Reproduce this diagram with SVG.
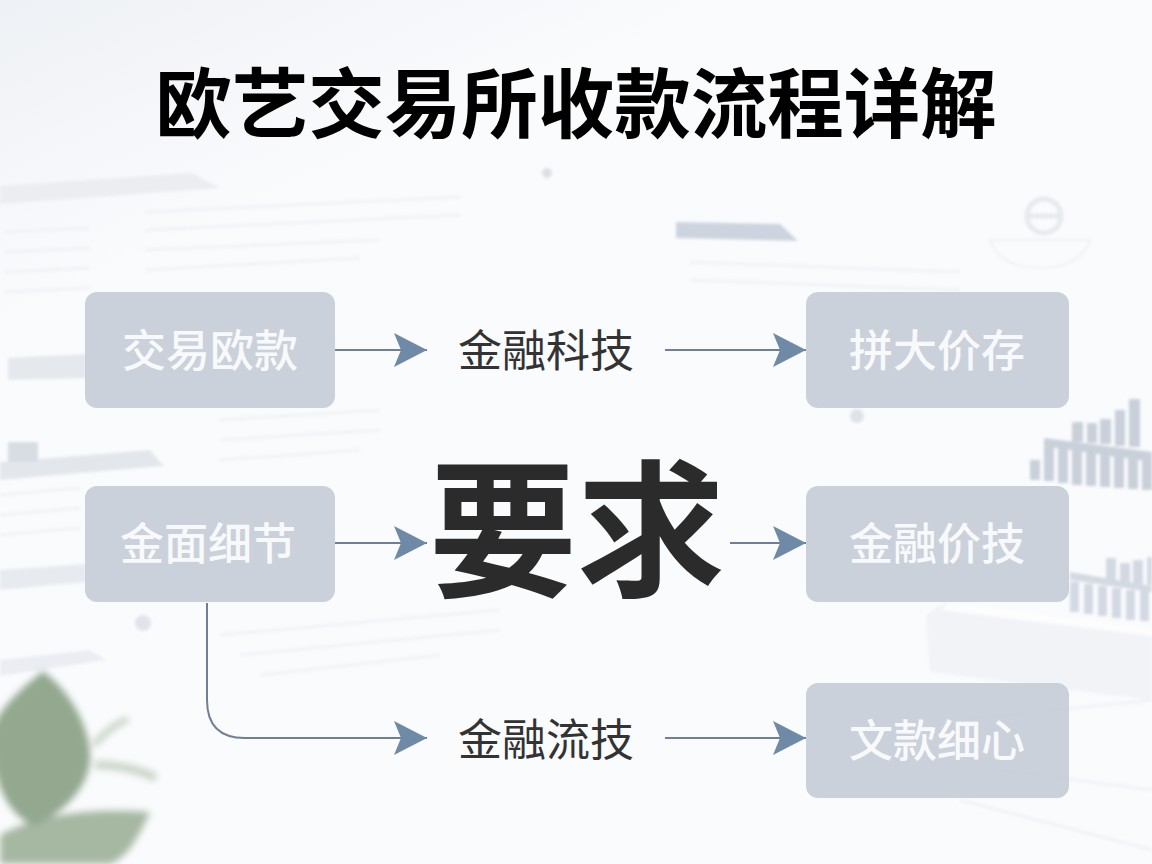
<svg xmlns="http://www.w3.org/2000/svg" width="1152" height="864" viewBox="0 0 1152 864">
<defs>
<linearGradient id="bg" x1="0" y1="0" x2="0.6" y2="1"><stop offset="0" stop-color="#eef1f5"/><stop offset="0.28" stop-color="#fafbfd"/><stop offset="1" stop-color="#fafbfd"/></linearGradient>
<filter id="b1" x="-20%" y="-20%" width="140%" height="140%"><feGaussianBlur stdDeviation="1.5"/></filter>
<filter id="b2" x="-30%" y="-30%" width="160%" height="160%"><feGaussianBlur stdDeviation="3.5"/></filter>
<marker id="ah" markerUnits="userSpaceOnUse" markerWidth="34" markerHeight="36" refX="33" refY="18" orient="auto"><path d="M0 1L33 18L0 35L7 18Z" fill="#6f8aa6"/></marker>
</defs>
<style>
.n{fill:#c5ccd7;fill-opacity:.9}
.nt{font-family:"Noto Sans CJK SC","Noto Sans",sans-serif;font-size:44px;fill:#fff;text-anchor:middle;font-weight:500;fill-opacity:.9}
.lb{font-family:"Noto Sans CJK SC","Noto Sans",sans-serif;font-size:44px;fill:#333;text-anchor:middle}
.c{fill:none;stroke:#6f7f95;stroke-width:2;marker-end:url(#ah)}
.l{stroke:#f0f2f5;stroke-width:3}
</style>
<rect width="1152" height="864" fill="url(#bg)"/>
<g id="background" filter="url(#b1)">
<path d="M0 186L192 173L220 188L0 204Z" fill="#ebedf1"/>
<path d="M676 222L780 224L798 241L676 238Z" fill="#cdd4df"/>
<path d="M8 358L86 354V378L8 380Z" fill="#e5e8ec"/>
<path d="M0 462L150 450L164 466L0 480Z" fill="#e3e7ec"/>
<rect x="8" y="442" width="30" height="20" fill="#d8dde4"/>
<path d="M0 570L86 564V582L0 590Z" fill="#e7eaef"/>
<path d="M0 660L90 650L106 660L0 676Z" fill="#ebedf3"/>
<circle cx="1044" cy="216" r="17" fill="none" stroke="#e6e9ed" stroke-width="5"/>
<line x1="1028" y1="216" x2="1060" y2="216" stroke="#e6e9ed" stroke-width="5"/>
<path d="M990 240H1090Q1080 268 1040 268Q1000 268 990 240Z" fill="none" stroke="#eef0f3" stroke-width="2"/>
<circle cx="547" cy="173" r="5" fill="#dcdfe5"/>
<circle cx="857" cy="416" r="7" fill="#dfe3e9"/>
<circle cx="143" cy="623" r="8" fill="#e0e4ea"/>
<g fill="#c9d0da">
<rect x="1030" y="460" width="10" height="20"/>
<path d="M1044 438L1152 452V462L1044 446Z"/>
<rect x="1044" y="445" width="10" height="36"/><rect x="1058" y="447" width="10" height="36"/><rect x="1072" y="449" width="10" height="36"/><rect x="1086" y="451" width="10" height="35"/><rect x="1100" y="453" width="10" height="34"/><rect x="1114" y="454" width="10" height="34"/><rect x="1128" y="455" width="10" height="34"/><rect x="1142" y="456" width="10" height="34"/>
<rect x="1072" y="422" width="11" height="20"/><rect x="1087" y="423" width="10" height="20"/><rect x="1100" y="419" width="11" height="25"/><rect x="1115" y="410" width="10" height="36"/><rect x="1129" y="399" width="11" height="48"/>
</g>
<g fill="#d3d9e2">
<path d="M1070 572L1152 586V592L1070 580Z"/>
<rect x="1070" y="582" width="9" height="30"/><rect x="1084" y="584" width="9" height="30"/><rect x="1098" y="586" width="9" height="30"/><rect x="1112" y="588" width="9" height="30"/><rect x="1126" y="590" width="9" height="30"/><rect x="1140" y="590" width="9" height="31"/>
<rect x="1106" y="558" width="10" height="22"/><rect x="1120" y="563" width="10" height="20"/><rect x="1133" y="560" width="10" height="24"/><rect x="1147" y="557" width="5" height="28"/>
</g>
<path d="M926 618Q928 610 950 602L1152 628V700L930 672Z" fill="#f1f3f6"/>
<path d="M950 602L1152 628V636L940 610Z" fill="#fdfdfe"/>
<g class="l">
<line x1="5" y1="232" x2="90" y2="228"/><line x1="5" y1="252" x2="90" y2="248"/><line x1="5" y1="272" x2="90" y2="268"/><line x1="5" y1="292" x2="90" y2="288"/>
<line x1="145" y1="212" x2="460" y2="197"/><line x1="145" y1="230" x2="460" y2="215"/><line x1="145" y1="250" x2="380" y2="240"/><line x1="145" y1="270" x2="360" y2="258"/>
<line x1="690" y1="262" x2="960" y2="272"/><line x1="690" y1="280" x2="960" y2="290"/>
<line x1="0" y1="495" x2="80" y2="488"/><line x1="0" y1="515" x2="80" y2="508"/><line x1="0" y1="535" x2="80" y2="528"/>
<line x1="220" y1="420" x2="380" y2="410"/><line x1="220" y1="440" x2="380" y2="430"/><line x1="220" y1="460" x2="360" y2="450"/>
<line x1="220" y1="635" x2="500" y2="610"/><line x1="240" y1="655" x2="500" y2="630"/><line x1="260" y1="675" x2="440" y2="655"/>
<line x1="960" y1="720" x2="1152" y2="700"/><line x1="960" y1="800" x2="1152" y2="850"/><line x1="1000" y1="770" x2="1152" y2="790"/>
</g>
</g>
<g id="plant" filter="url(#b2)">
<path d="M0 864L0 835C40 812 100 808 150 812C135 845 125 858 110 864Z" fill="#a6b8a2"/>
<path d="M43 671C75 695 92 735 90 760C88 790 60 815 34 826C10 815 -5 790 -10 740C-5 710 20 690 43 671Z" fill="#93a88f"/>
<path d="M94 745C105 732 115 724 128 719" fill="none" stroke="#c3d0c0" stroke-width="6"/>
<path d="M95 765C120 765 140 770 156 778" fill="none" stroke="#c6d2c3" stroke-width="8"/>
</g>
<text x="576" y="132" font-family="'Noto Sans CJK SC','Noto Sans',sans-serif" font-size="76.5" font-weight="700" fill="#000" text-anchor="middle">欧艺交易所收款流程详解</text>
<g id="connectors">
<line class="c" x1="335" y1="350" x2="427" y2="350"/>
<line class="c" x1="665" y1="350" x2="806" y2="350"/>
<line class="c" x1="335" y1="543" x2="427" y2="543"/>
<line class="c" x1="730" y1="543" x2="806" y2="543"/>
<path class="c" d="M207 603V700Q207 738 245 738H427"/>
<line class="c" x1="665" y1="738" x2="806" y2="738"/>
</g>
<g id="n1"><rect class="n" x="85" y="292" width="250" height="116" rx="12"/><text class="nt" x="210" y="367">交易欧款</text></g>
<g id="n2"><rect class="n" x="806" y="292" width="263" height="116" rx="12"/><text class="nt" x="937" y="367">拼大价存</text></g>
<g id="n3"><rect class="n" x="85" y="486" width="250" height="116" rx="12"/><text class="nt" x="208" y="560">金面细节</text></g>
<g id="n4"><rect class="n" x="806" y="486" width="263" height="116" rx="12"/><text class="nt" x="937" y="560">金融价技</text></g>
<g id="n5"><rect class="n" x="806" y="683" width="263" height="115" rx="12"/><text class="nt" x="937" y="757">文款细心</text></g>
<g id="l1"><text class="lb" x="546" y="367">金融科技</text></g>
<g id="l2"><text class="lb" x="546" y="756">金融流技</text></g>
<g id="center"><text x="577" y="585" font-family="'Noto Sans CJK SC','Noto Sans',sans-serif" font-size="148" font-weight="700" fill="#2b2b2b" text-anchor="middle">要求</text></g>
</svg>
